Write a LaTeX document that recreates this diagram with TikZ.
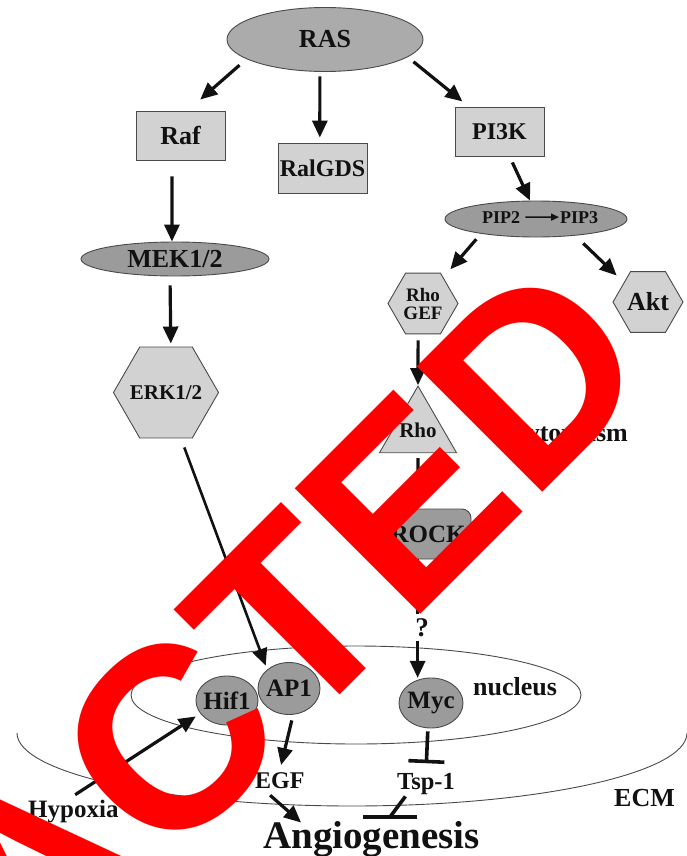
\documentclass[tikz,border=0pt]{standalone}
\usepackage{fontspec}
\setmainfont{Liberation Serif}
\newfontfamily\wmfont{Liberation Sans}
\usetikzlibrary{shapes.geometric,arrows.meta,calc}
\definecolor{lg}{HTML}{D2D2D2}
\definecolor{mg}{HTML}{9B9B9B}
\definecolor{rasg}{HTML}{ABABAB}
\definecolor{edge}{HTML}{4A4A4A}
\definecolor{ink}{HTML}{111111}
\newcommand\stampfont{\wmfont\bfseries\fontsize{258}{258}\selectfont}
\newlength\stampw
\tikzset{
  fs/.style={font=\fontsize{#1}{#1}\selectfont\bfseries},
  shp/.style={draw=edge, line width=0.9pt, inner sep=0pt, text=ink},
  boxn/.style={shp, rectangle, fill=lg, minimum width=89pt, minimum height=49pt},
  ellg/.style={shp, ellipse, fill=mg, inner sep=-8pt},
  hexn/.style={shp, regular polygon, regular polygon sides=6, fill=lg, inner sep=-4pt},
  lbl/.style={inner sep=2pt, text=ink, anchor=base west},
  arr/.style={line width=3.2pt, draw=ink, -{Triangle[length=17pt,width=15pt]}},
  inh/.style={line width=3.6pt, draw=ink},
  membr/.style={draw=edge, line width=0.9pt},
}
\begin{document}
\settowidth{\stampw}{\stampfont REDACT}
\begin{tikzpicture}[x=1pt,y=-1pt]
\useasboundingbox (0,0) rectangle (687,856);
\fill[white] (0,0) rectangle (687,856);

% compartments
\draw[membr] (17,733) arc[start angle=180, end angle=0, x radius=335, y radius=73];
\draw[membr] (356,695) ellipse[x radius=225, y radius=49];

% nodes
\node[ellg, fill=rasg, minimum width=196pt, minimum height=64pt, fs=26] (ras) at (325,39.5) {RAS};
\node[boxn, fs=26] (raf) at (180.5,135.5) {Raf};
\node[boxn, minimum height=50pt, fs=24] (ral) at (322.5,168) {RalGDS};
\node[boxn, fs=24] (pi3k) at (499.5,131.5) {PI3K};
\node[ellg, minimum width=182pt, minimum height=36pt] (pip) at (536,219) {};
\node[fs=18, inner sep=1pt, anchor=base west, text=ink] (pip2) at (481,223) {PIP2};
\node[fs=18, inner sep=1pt, anchor=base west, text=ink] (pip3) at (559,223) {PIP3};
\node[ellg, minimum width=188pt, minimum height=34pt, fs=26] (mek) at (175,259) {MEK1/2};
\node[hexn, minimum size=89pt, fs=21] (erk) at (166,392.5) {ERK1/2};
\node[hexn, minimum size=70pt, font=\fontsize{19}{18}\selectfont\bfseries, align=center] (rhogef) at (423,303.5) {Rho\\GEF};
\node[hexn, minimum size=70pt, fs=26] (akt) at (648,302) {Akt};
\node[shp, regular polygon, regular polygon sides=3, fill=lg, inner sep=-4pt, minimum size=88.9pt, fs=21, text depth=-2pt] (rho) at (418,430.5) {Rho};
\node[lbl, fs=26] (cyto) at (513,441) {cytoplasm};
\node[shp, rectangle, rounded corners=9pt, fill=mg, minimum width=86pt, minimum height=50pt, fs=25] (rock) at (428,534) {ROCK};
\node[fs=27, inner sep=2pt, anchor=base, text=ink] (q) at (422,636) {?};
\node[ellg, minimum width=62pt, minimum height=49pt, fs=25] (hif) at (227,700.5) {Hif1};
\node[ellg, minimum width=62pt, minimum height=52pt, fs=25] (ap1) at (289,688.5) {AP1};
\node[ellg, minimum width=64pt, minimum height=50pt, fs=25] (myc) at (431,703) {Myc};
\node[lbl, fs=26] (nuc) at (471,695) {nucleus};
\node[lbl, fs=26] (ecm) at (612,806) {ECM};
\node[lbl, fs=25] (hyp) at (26,817) {Hypoxia};
\node[lbl, fs=24] (egf) at (253,788) {EGF};
\node[lbl, fs=24.5] (tsp) at (395,789) {Tsp-1};
\node[lbl, fs=39] (ang) at (261,848) {Angiogenesis};
\coordinate (angbar) at (390,817);

% activating connectors
\draw[arr, shorten <=9.3pt, shorten >=16.7pt] (ras.194) -- (raf.74);
\draw[arr, shorten <=4.5pt, shorten >=5pt] (ras.261) -- (ral.96);
\draw[arr, shorten <=7.4pt, shorten >=8.1pt] (ras.348) -- (pi3k.141);
\draw[arr, shorten <=16pt] (raf.251) -- (mek.100);
\draw[arr, shorten <=6.6pt] (pi3k.292) -- (pip.108);
\draw[line width=1.6pt, draw=ink, -{Triangle[length=8pt,width=7pt]}, shorten <=4pt] (pip2.east) -- (pip3.west);
\draw[arr, shorten <=9pt, shorten >=3pt] (mek.254) -- (erk.84);
\draw[arr, shorten <=7.2pt, shorten >=10.6pt] (pip.195) -- (rhogef.52);
\draw[arr, shorten <=11.1pt, shorten >=9.9pt] (pip.337) -- (akt.141);
\draw[arr, shorten <=6pt] (rhogef.261) -- (rho.corner 1);
\draw[arr, shorten <=5pt] (rho.south) -- (rock.112);
\draw[line width=3.2pt, draw=ink, shorten >=2pt] (rock.248) -- (rock.248 |- q.north);
\draw[arr, shorten <=2pt, shorten >=2pt] (q.south -| myc.120) -- (myc.120);
\draw[arr, line width=2.6pt, shorten <=9.6pt, shorten >=4.1pt] (erk.288) -- (ap1.139);
\draw[arr, shorten <=5pt, shorten >=5.3pt] (hyp.100) -- (hif.206);
\draw[arr, shorten <=5.85pt, shorten >=5pt] (ap1.279) -- (egf.north);
\draw[arr, shorten <=7.3pt, shorten >=-5.7pt] (egf.214) -- (ang.165.6);

% inhibiting connectors
\draw[inh, -{Bar[width=36pt,line width=3.6pt]}, shorten <=3pt, shorten >=7.4pt] (myc.263) -- (tsp.north);
\draw[inh] (tsp.212) -- (angbar);
\draw[inh] ($(angbar)+(-27,0)$) -- ($(angbar)+(27,0)$);

% overlay stamp as printed
\coordinate (eorig) at (408.6,626.4);
\coordinate (sorig) at ($(eorig)+(225:\stampw)$);
\begin{scope}
\clip (0,0) rectangle (687,856);
\node[text=red, font=\stampfont, rotate=45, anchor=base west, inner sep=0pt] (stamp) at (sorig) {REDACTED};
\end{scope}
\end{tikzpicture}
\end{document}
